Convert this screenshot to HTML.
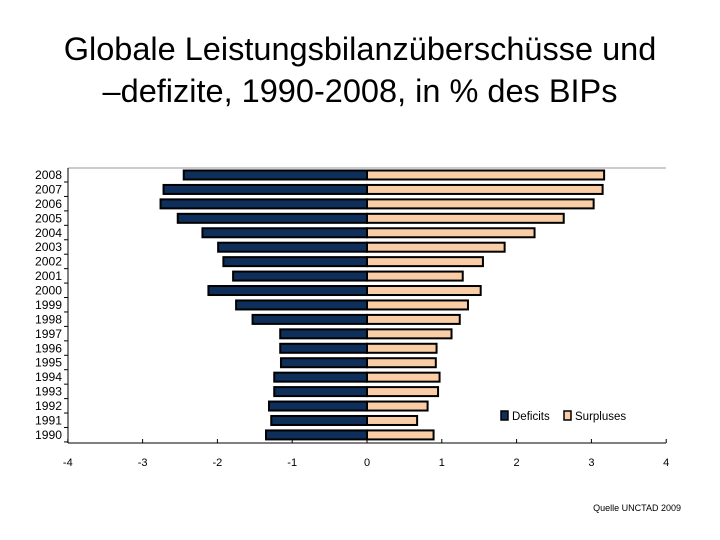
<!DOCTYPE html>
<html><head><meta charset="utf-8"><style>
body{margin:0;background:#fff;width:720px;height:540px;overflow:hidden;font-family:"Liberation Sans",sans-serif}
.title{position:absolute;left:0;top:28px;width:720px;text-align:center;font-size:32.5px;line-height:42px;color:#000}
</style></head><body>
<div class="title">Globale Leistungsbilanzüberschüsse und<br>–defizite, 1990-2008, in % des BIPs</div>
<svg id="c" width="720" height="540" style="position:absolute;left:0;top:0"></svg>
<script>
const years=["2008","2007","2006","2005","2004","2003","2002","2001","2000","1999","1998","1997","1996","1995","1994","1993","1992","1991","1990"];
const deficits=[-2.45,-2.72,-2.76,-2.53,-2.2,-1.99,-1.92,-1.79,-2.12,-1.75,-1.53,-1.16,-1.16,-1.15,-1.24,-1.24,-1.31,-1.28,-1.35];
const surpluses=[3.17,3.15,3.03,2.63,2.24,1.84,1.55,1.28,1.52,1.35,1.24,1.13,0.93,0.92,0.97,0.95,0.81,0.67,0.89];
const xTicks=[-4,-3,-2,-1,0,1,2,3,4];
const NS="http://www.w3.org/2000/svg",svg=document.getElementById('c');
const x=v=>367+v*74.8;
const y=i=>175+i*14.44;
function mk(t,a){const e=document.createElementNS(NS,t);for(const k in a)e.setAttribute(k,a[k]);svg.appendChild(e);return e;}
let e;
e=mk('line',{x1:68,y1:168,x2:666,y2:168,stroke:'#999','stroke-width':1});


e=mk('line',{x1:68,y1:168,x2:68,y2:443,stroke:'#000','stroke-width':1});


e=mk('line',{x1:68,y1:443,x2:666,y2:443,stroke:'#000','stroke-width':1});


years.forEach((yr,i)=>{
 e=mk('text',{x:62,y:y(i)+4,'text-anchor':'end','font-size':12,fill:'#000','textLength':27,'lengthAdjust':'spacingAndGlyphs'});e.textContent=yr;
 
 
 e=mk('line',{x1:64,y1:y(i)+7,x2:68,y2:y(i)+7,stroke:'#000'});
 
 
 e=mk('rect',{x:x(deficits[i]),y:y(i)-4.5,width:x(0)-x(deficits[i]),height:9,fill:'#0d2f5a',stroke:'#000','stroke-width':2});
 
 
 e=mk('rect',{x:x(0),y:y(i)-4.5,width:x(surpluses[i])-x(0),height:9,fill:'#f9cda6',stroke:'#000','stroke-width':2});
 
 
});
xTicks.forEach(t=>{
 e=mk('line',{x1:x(t),y1:439,x2:x(t),y2:443,stroke:'#000'});
 
 
 e=mk('text',{x:x(t),y:466,'text-anchor':'middle','font-size':11,fill:'#000'});e.textContent=t;
 
 
});
e=mk('rect',{x:501,y:411,width:7,height:9,fill:'#0d2f5a',stroke:'#000','stroke-width':1.5});


e=mk('text',{x:512,y:420,'font-size':11.5,fill:'#000'});e.textContent='Deficits';


e=mk('rect',{x:564,y:411,width:7,height:9,fill:'#f9cda6',stroke:'#000','stroke-width':1.5});


e=mk('text',{x:575,y:420,'font-size':11.5,fill:'#000'});e.textContent='Surpluses';


e=mk('text',{x:681,y:511,'text-anchor':'end','font-size':9,fill:'#000'});e.textContent='Quelle UNCTAD 2009';


</script>
</body></html>
